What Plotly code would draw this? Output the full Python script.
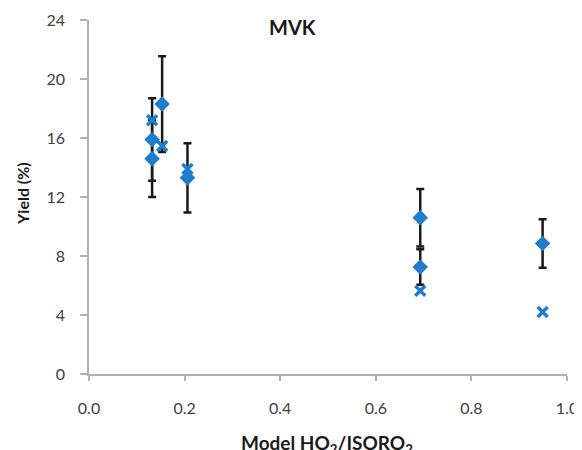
import plotly.graph_objects as go

# Measured yields (diamonds with error bars)
meas_x = [0.132, 0.132, 0.153, 0.206, 0.693, 0.693, 0.949]
meas_y = [15.9, 14.6, 18.3, 13.3, 10.6, 7.25, 8.85]
meas_err = [2.8, 2.6, 3.25, 2.35, 1.95, 1.2, 1.65]

# Model yields (crosses)
model_x = [0.132, 0.153, 0.206, 0.693, 0.949]
model_y = [17.2, 15.45, 13.9, 5.65, 4.2]

x_ticks = [0.0, 0.2, 0.4, 0.6, 0.8, 1.0]
x_ticklabels = ["0.0", "0.2", "0.4", "0.6", "0.8", "1.0"]
y_ticks = [0, 4, 8, 12, 16, 20, 24]

blue = "#1f7dcc"
font_family = "Lato, 'Open Sans', sans-serif"

# page body has an 8px default margin, so the figure is drawn 8px smaller
OFF = 8
PL, PR, PT, PB = 88.7, 566.7, 20, 374.5  # plot box in window pixels
W, H = 582 - OFF, 450 - OFF

fig = go.Figure()
fig.add_trace(go.Scatter(
    x=meas_x, y=meas_y, mode="markers",
    marker=dict(symbol="diamond", size=12, color=blue),
    error_y=dict(type="data", array=meas_err, visible=True,
                 color="#1a1a1a", thickness=2.5, width=4),
    showlegend=False,
))
fig.add_trace(go.Scatter(
    x=model_x, y=model_y, mode="markers",
    marker=dict(symbol="x-thin", size=10, color=blue,
                line=dict(color=blue, width=3.5)),
    showlegend=False,
))

pw = PR - PL
ph = PB - PT

fig.update_layout(
    width=W, height=H,
    margin=dict(l=PL - OFF, r=582 - PR, t=PT - OFF, b=450 - PB, autoexpand=False),
    plot_bgcolor="white", paper_bgcolor="white",
    font=dict(family=font_family, color="#404040", size=16),
    xaxis=dict(range=[0, 1], tickvals=x_ticks, ticktext=x_ticklabels,
               showgrid=False, zeroline=False, showline=True, automargin=False,
               linecolor="#b0b0b0", linewidth=1.5,
               ticks="outside", ticklen=5, tickwidth=1.5, tickcolor="#b0b0b0",
               tickfont=dict(size=16, color="#404040"), ticklabelstandoff=14),
    yaxis=dict(range=[0, 24], tickvals=y_ticks,
               showgrid=False, zeroline=False, showline=True, automargin=False,
               linecolor="#b0b0b0", linewidth=1.5,
               ticks="outside", ticklen=7, tickwidth=1.5, tickcolor="#b0b0b0",
               tickfont=dict(size=16, color="#404040"), ticklabelstandoff=12),
    annotations=[
        dict(text="<b>MVK</b>", xref="paper", yref="paper",
             x=(292.5 - PL) / pw, y=1 + (PT - 27) / ph,
             xanchor="center", yanchor="middle", showarrow=False,
             font=dict(size=20, color="#1a1a1a", family=font_family)),
        dict(text="<b>Yield (%)</b>", xref="paper", yref="paper",
             x=(22 - PL) / pw, y=(PB - 194) / ph,
             xanchor="center", yanchor="middle", showarrow=False, textangle=-90,
             font=dict(size=16, color="#1a1a1a", family=font_family)),
        dict(text="<b>Model HO<sub>2</sub>/ISORO<sub>2</sub></b>", xref="paper", yref="paper",
             x=(327 - PL) / pw, y=-(430 - PB) / ph,
             xanchor="center", yanchor="top", showarrow=False,
             font=dict(size=19, color="#1a1a1a", family=font_family)),
    ],
)

fig.write_html("out.html")
